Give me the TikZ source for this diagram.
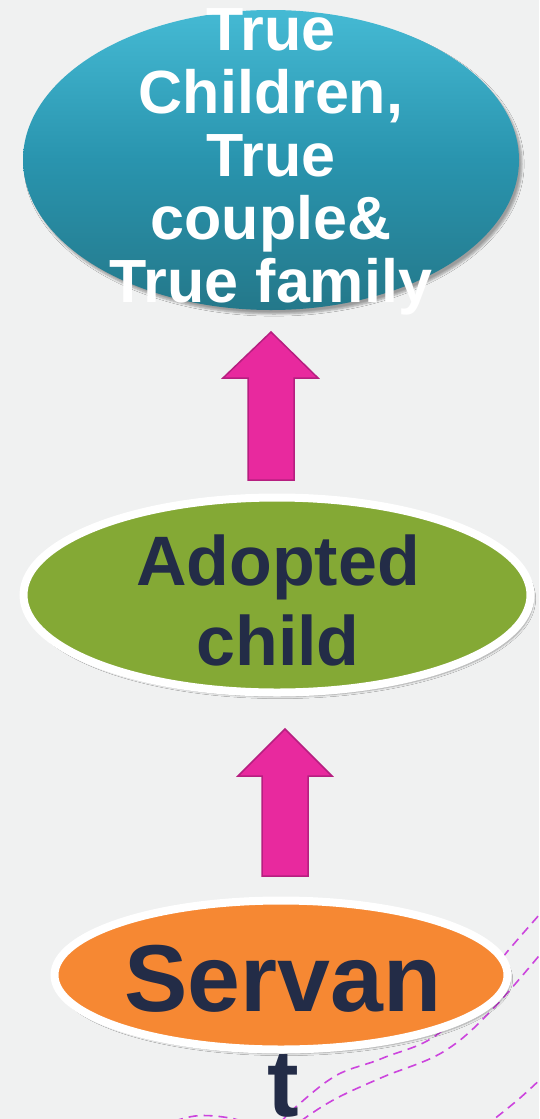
\documentclass[tikz,border=0pt]{standalone}
\usepackage{fontspec}
\setmainfont{Liberation Sans}
\usetikzlibrary{shapes.geometric,shadows.blur}
\definecolor{bg}{HTML}{F0F1F1}
\definecolor{tealtop}{HTML}{45BAD4}
\definecolor{tealmid}{HTML}{2994AE}
\definecolor{tealbot}{HTML}{24788A}
\definecolor{leaf}{HTML}{84A935}
\definecolor{orangefill}{HTML}{F68833}
\definecolor{navy}{HTML}{232C47}
\definecolor{pinkfill}{HTML}{E8299E}
\definecolor{pinkedge}{HTML}{B61F80}
\definecolor{dashpurple}{HTML}{CC44DD}
\tikzset{
  softshadow/.style={blur shadow={shadow xshift=3pt, shadow yshift=-4pt, shadow blur steps=6, shadow opacity=35}},
  topoval/.style={ellipse, inner sep=0pt, minimum width=496pt, minimum height=300pt,
    top color=tealtop, bottom color=tealbot, middle color=tealmid, softshadow},
  whiteoval/.style={ellipse, inner sep=0pt, draw=white, line width=8pt, softshadow},
  toptext/.style={inner sep=0pt, align=center, text=white, font=\bfseries\fontsize{61}{63}\selectfont},
  navytext/.style={inner sep=0pt, align=center, text=navy},
  blockarrow/.style={fill=pinkfill, draw=pinkedge, line width=1.5pt, line join=miter},
  dashcurve/.style={draw=dashpurple, dash pattern=on 9pt off 6pt, line width=1.6pt}
}
\begin{document}
\begin{tikzpicture}[x=1pt,y=-1pt]
\fill[bg] (0,0) rectangle (539,1119);
\useasboundingbox (0,0) rectangle (539,1119);
% background dashed curves
\begin{scope}
\clip (0,0) rectangle (539,1119);
\draw[dashcurve] plot[smooth, tension=0.6] coordinates {(548,905) (507,952) (443,1030) (383,1058) (337,1075) (298,1105) (275,1128)};
\draw[dashcurve] plot[smooth, tension=0.6] coordinates {(548,945) (490,1012) (443,1052) (383,1077) (337,1098) (305,1118) (295,1128)};
\draw[dashcurve] plot[smooth, tension=0.6] coordinates {(548,1072) (520,1098) (488,1124)};
\draw[dashcurve] plot[smooth, tension=0.6] coordinates {(160,1126) (195,1116) (230,1118) (255,1126)};
\end{scope}
% top oval
\node[topoval] (top) at (271,160) {};
\node[toptext, anchor=north] (toplabel) at (271,8) {True\\Children,\\True\\couple\&\\True family};
% arrow 1
\draw[blockarrow] (248,480) -- (248,378) -- (223,378) -- (271,332) -- (318,378) -- (294,378) -- (294,480) -- cycle;
% adopted child
\node[whiteoval, fill=leaf, minimum width=507pt, minimum height=195pt] (adopted) at (277,595) {};
\node[navytext, anchor=north, font=\bfseries\fontsize{70}{80}\selectfont] (adoptedlabel) at (278,535) {Adopted\\child};
% arrow 2
\draw[blockarrow] (262,876) -- (262,776) -- (238,776) -- (285,729) -- (332,776) -- (308,776) -- (308,876) -- cycle;
% servant
\node[whiteoval, fill=orangefill, minimum width=453pt, minimum height=149pt] (servant) at (281,975) {};
\node[navytext, anchor=north, font=\bfseries\fontsize{95}{105}\selectfont] (servantlabel) at (283,945) {Servan\\t};
\end{tikzpicture}
\end{document}
